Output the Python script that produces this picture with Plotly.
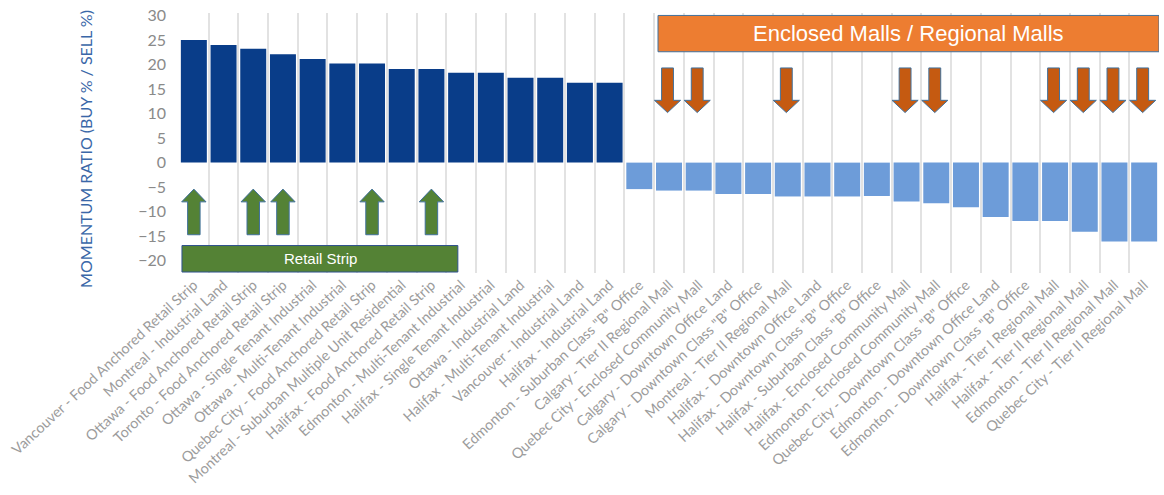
import plotly.graph_objects as go

categories = [
    "Vancouver - Food Anchored Retail Strip",
    "Montreal - Industrial Land",
    "Ottawa - Food Anchored Retail Strip",
    "Toronto - Food Anchored Retail Strip",
    "Ottawa - Single Tenant Industrial",
    "Ottawa - Multi-Tenant Industrial",
    "Quebec City - Food Anchored Retail Strip",
    "Montreal - Suburban Multiple Unit Residential",
    "Halifax - Food Anchored Retail Strip",
    "Edmonton - Multi-Tenant Industrial",
    "Halifax - Single Tenant Industrial",
    "Ottawa - Industrial Land",
    "Halifax - Multi-Tenant Industrial",
    "Vancouver - Industrial Land",
    "Halifax - Industrial Land",
    "Edmonton - Suburban Class \"B\" Office",
    "Calgary - Tier II Regional Mall",
    "Quebec City - Enclosed Community Mall",
    "Calgary - Downtown Office Land",
    "Calgary - Downtown Class \"B\" Office",
    "Montreal - Tier II Regional Mall",
    "Halifax - Downtown Office Land",
    "Halifax - Downtown Class \"B\" Office",
    "Halifax - Suburban Class \"B\" Office",
    "Halifax - Enclosed Community Mall",
    "Edmonton - Enclosed Community Mall",
    "Quebec City - Downtown Class \"B\" Office",
    "Edmonton - Downtown Office Land",
    "Edmonton - Downtown Class \"B\" Office",
    "Halifax - Tier I Regional Mall",
    "Halifax - Tier II Regional Mall",
    "Edmonton - Tier II Regional Mall",
    "Quebec City - Tier II Regional Mall",
]

momentum = [
    25.0, 24.0, 23.2, 22.1, 21.1, 20.2, 20.2, 19.1, 19.1, 18.3, 18.3, 17.3, 17.3, 16.3, 16.3,
    -5.4, -5.7, -5.7, -6.4, -6.4, -6.9, -6.9, -6.9, -6.8, -7.9, -8.3, -9.1, -11.1, -11.9, -11.9,
    -14.1, -16.1, -16.1,
]

retail_strip_items = [
    "Vancouver - Food Anchored Retail Strip",
    "Ottawa - Food Anchored Retail Strip",
    "Toronto - Food Anchored Retail Strip",
    "Quebec City - Food Anchored Retail Strip",
    "Halifax - Food Anchored Retail Strip",
]

mall_items = [
    "Calgary - Tier II Regional Mall",
    "Quebec City - Enclosed Community Mall",
    "Montreal - Tier II Regional Mall",
    "Halifax - Enclosed Community Mall",
    "Edmonton - Enclosed Community Mall",
    "Halifax - Tier I Regional Mall",
    "Halifax - Tier II Regional Mall",
    "Edmonton - Tier II Regional Mall",
    "Quebec City - Tier II Regional Mall",
]

y_ticks = [-20, -15, -10, -5, 0, 5, 10, 15, 20, 25, 30]
y_title = "MOMENTUM RATIO (BUY % / SELL %)"
retail_label = "Retail Strip"
mall_label = "Enclosed Malls / Regional Malls"

DARK = "#093d89"
LIGHT = "#6d9cd9"
GREEN = "#548235"
ORANGE = "#ed7d31"
ARROW_ORANGE = "#c55a11"
EDGE = "#41719c"

idx = list(range(len(categories)))
colors = [DARK if v > 0 else LIGHT for v in momentum]

fig = go.Figure()
fig.add_trace(go.Bar(
    x=idx, y=momentum, marker=dict(color=colors, line=dict(width=0)),
    hoverinfo="skip", showlegend=False,
))

shapes = []


def arrow_path(xc, yb, yh, yt, sh, hh):
    return (f"M {xc-sh},{yb} L {xc-sh},{yh} L {xc-hh},{yh} L {xc},{yt} "
            f"L {xc+hh},{yh} L {xc+sh},{yh} L {xc+sh},{yb} Z")


for name in retail_strip_items:
    xc = categories.index(name)
    shapes.append(dict(type="path", xref="x", yref="y",
                       path=arrow_path(xc, -14.7, -8.0, -5.4, 0.21, 0.41),
                       fillcolor=GREEN, line=dict(color=EDGE, width=1), layer="above"))

for name in mall_items:
    xc = categories.index(name) - 0.05
    shapes.append(dict(type="path", xref="x", yref="y",
                       path=arrow_path(xc, 19.3, 12.7, 10.2, 0.2, 0.44),
                       fillcolor=ARROW_ORANGE, line=dict(color=EDGE, width=1), layer="above"))

# Retail Strip box
shapes.append(dict(type="rect", xref="x", yref="y", x0=-0.40, x1=8.89, y0=-22.3, y1=-16.9,
                   fillcolor=GREEN, line=dict(color="#2f528f", width=1), layer="above"))
# Malls box
shapes.append(dict(type="rect", xref="x", yref="y", x0=15.63, x1=32.5, y0=22.6, y1=30.0,
                   fillcolor=ORANGE, line=dict(color=EDGE, width=1), layer="above"))

annotations = [
    dict(x=4.25, y=-19.6, xref="x", yref="y", text=retail_label, showarrow=False,
         font=dict(family="Liberation Sans, Arial", size=15, color="white")),
    dict(x=24.07, y=26.3, xref="x", yref="y", text=mall_label, showarrow=False,
         font=dict(family="Liberation Sans, Arial", size=22, color="white")),
    dict(x=-0.095, y=0.477, xref="paper", yref="paper", text=y_title, showarrow=False,
         textangle=-90, xanchor="center", yanchor="middle",
         font=dict(family="Lato", size=16, color="#3a67a8")),
]

fig.update_layout(
    width=1164, height=495,
    margin=dict(l=179, r=5, t=9, b=222),
    paper_bgcolor="white", plot_bgcolor="white",
    bargap=0.125,
    shapes=shapes, annotations=annotations,
    font=dict(family="Lato"),
)
fig.update_xaxes(
    range=[-0.5, len(categories) - 0.5],
    tickmode="array", tickvals=idx, ticktext=categories,
    tickangle=-43, tickfont=dict(family="Lato", size=14.4, color="#9c9c9c"),
    showgrid=False, zeroline=False, showline=False, ticks="",
    minor=dict(tickmode="array", tickvals=[i - 0.5 for i in range(len(categories) + 1)],
               showgrid=True, gridcolor="#e2e2e2", gridwidth=1.5, ticks=""),
)
fig.update_yaxes(
    range=[-22.5, 30.5], tickmode="array", tickvals=y_ticks,
    tickfont=dict(family="Lato", size=16, color="#8a8a8a"),
    showgrid=False, zeroline=False, showline=False, ticks="", ticklabelstandoff=12,
)

fig.write_html("out.html")
